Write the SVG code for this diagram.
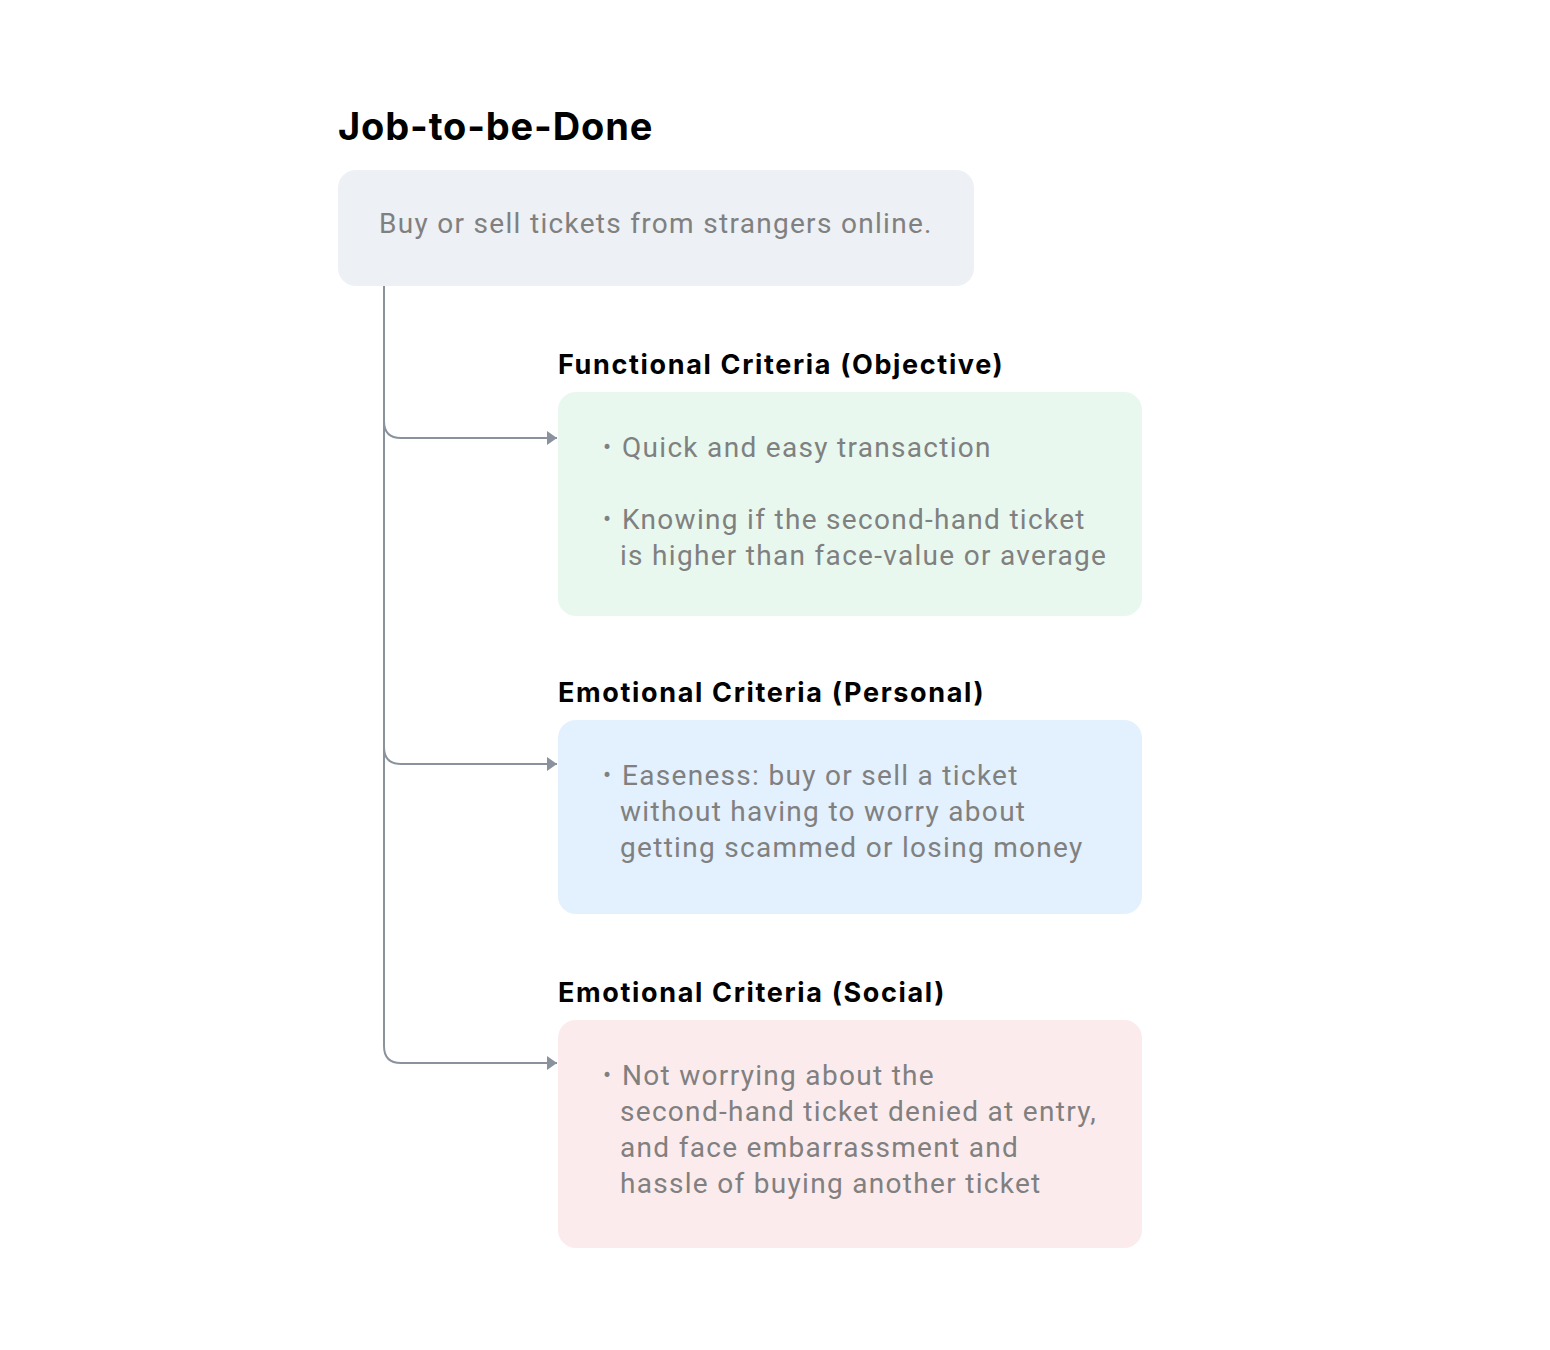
<svg xmlns="http://www.w3.org/2000/svg" width="1550" height="1350" viewBox="0 0 1550 1350">
<style>
.h1{font-family:Inter,"Liberation Sans",sans-serif;font-weight:700;font-size:38px;letter-spacing:0.85px;fill:#000}
.h2{font-family:Inter,"Liberation Sans",sans-serif;font-weight:700;font-size:27px;letter-spacing:1.65px;fill:#000}
.t{font-family:Roboto,"Liberation Sans",sans-serif;font-size:28px;letter-spacing:1.3px;fill:#808080}
.b{font-family:Roboto,"Liberation Sans",sans-serif;font-size:24px;fill:#808080}
.c{fill:none;stroke:#8A939D;stroke-width:2}
</style>
<defs>
<marker id="ah" viewBox="0 0 10 14" refX="10" refY="7" markerWidth="10" markerHeight="14" markerUnits="userSpaceOnUse" orient="auto">
<path d="M0,0 L10,7 L0,14 Z" fill="#8A939D"/>
</marker>
</defs>
<rect width="1550" height="1350" fill="#fff"/>
<g id="connectors">
<path class="c" d="M384,286 V1046 Q384,1063 401,1063 H557" marker-end="url(#ah)"/>
<path class="c" d="M384,421 Q384,438 401,438 H557" marker-end="url(#ah)"/>
<path class="c" d="M384,747 Q384,764 401,764 H557" marker-end="url(#ah)"/>
</g>
<g id="job">
<text class="h1" x="338" y="140">Job-to-be-Done</text>
<rect x="338" y="170" width="636" height="116" rx="18" fill="#EDF0F4"/>
<text class="t" x="379" y="233">Buy or sell tickets from strangers online.</text>
</g>
<g id="functional">
<text class="h2" x="558" y="374">Functional Criteria (Objective)</text>
<rect x="558" y="392" width="584" height="224" rx="18" fill="#E8F8EF"/>
<text class="b" x="603" y="455">•</text>
<text class="t" x="622" y="457">Quick and easy transaction</text>
<text class="b" x="603" y="527">•</text>
<text class="t" x="622" y="529">Knowing if the second-hand ticket</text>
<text class="t" x="620" y="565">is higher than face-value or average</text>
</g>
<g id="personal">
<text class="h2" x="558" y="702">Emotional Criteria (Personal)</text>
<rect x="558" y="720" width="584" height="194" rx="18" fill="#E3F0FD"/>
<text class="b" x="603" y="783">•</text>
<text class="t" x="622" y="785">Easeness: buy or sell a ticket</text>
<text class="t" x="620" y="821">without having to worry about</text>
<text class="t" x="620" y="857">getting scammed or losing money</text>
</g>
<g id="social">
<text class="h2" x="558" y="1002">Emotional Criteria (Social)</text>
<rect x="558" y="1020" width="584" height="228" rx="18" fill="#FCEBEC"/>
<text class="b" x="603" y="1083">•</text>
<text class="t" x="622" y="1085">Not worrying about the</text>
<text class="t" x="620" y="1121">second-hand ticket denied at entry,</text>
<text class="t" x="620" y="1157">and face embarrassment and</text>
<text class="t" x="620" y="1193">hassle of buying another ticket</text>
</g>
</svg>
